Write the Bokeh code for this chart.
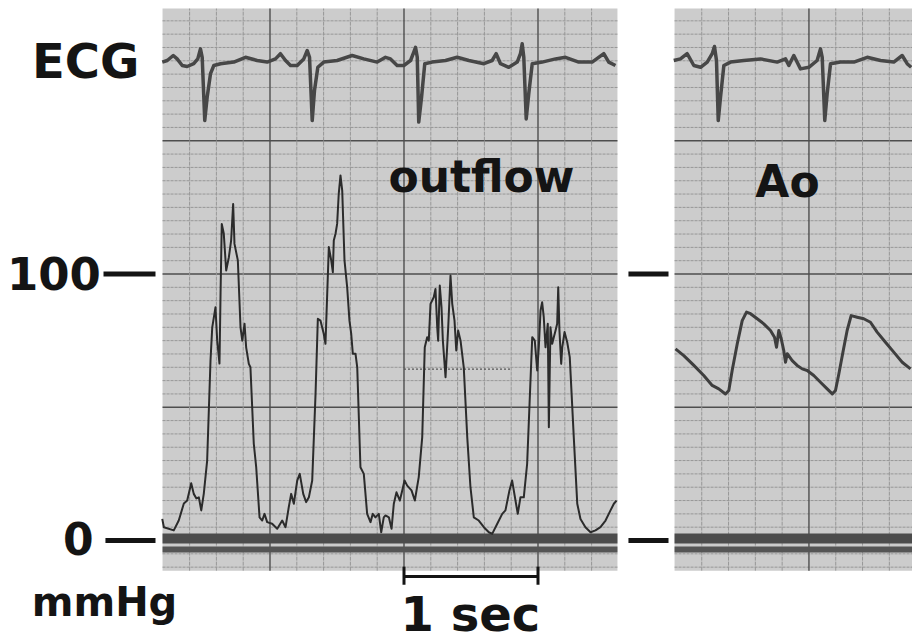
import numpy as np
from bokeh.plotting import figure
from bokeh.models import Range1d
from bokeh.core.properties import value
from bokeh.embed import file_html
from bokeh.resources import INLINE

# ---------------- data (time in s, pressure in mmHg, ECG in mV) ----------------
out_t = [0.196,0.208,0.282,0.319,0.357,0.382,0.412,0.431,0.451,0.469,
         0.487,0.506,0.531,0.556,0.569,0.593,0.606,0.623,0.631,0.640,
         0.655,0.673,0.693,0.710,0.725,0.735,0.760,0.780,0.793,0.810,
         0.822,0.842,0.854,0.879,0.897,0.922,0.942,0.959,0.979,1.016,
         1.054,1.091,1.116,1.140,1.158,1.178,1.203,1.222,1.248,1.270,
         1.290,1.315,1.340,1.357,1.377,1.401,1.414,1.427,1.439,1.457,
         1.469,1.476,1.489,1.501,1.513,1.526,1.539,1.556,1.576,1.593,
         1.606,1.618,1.638,1.651,1.675,1.700,1.725,1.750,1.767,1.787,
         1.812,1.830,1.849,1.862,1.887,1.907,1.924,1.944,1.969,1.987,
         2.004,2.024,2.056,2.081,2.110,2.136,2.155,2.173,2.185,2.198,
         2.222,2.235,2.248,2.255,2.267,2.280,2.290,2.310,2.330,2.347,
         2.360,2.377,2.390,2.404,2.422,2.446,2.472,2.496,2.521,2.558,
         2.596,2.633,2.658,2.696,2.733,2.757,2.787,2.807,2.832,2.849,
         2.869,2.894,2.919,2.937,2.957,2.976,2.994,3.006,3.019,3.031,
         3.043,3.056,3.073,3.081,3.093,3.106,3.118,3.131,3.143,3.151,
         3.160,3.173,3.181,3.198,3.218,3.237,3.267,3.293,3.317,3.354,
         3.392,3.429,3.466,3.504,3.541,3.566,3.586]
out_p = [8.1,5.0,3.8,7.5,13.9,15.0,21.5,17.5,15.8,16.2,
         11.3,17.6,30.0,67.5,80.0,87.5,75.0,66.4,92.7,118.8,
         115.2,101.3,106.3,112.6,126.3,111.3,105.1,80.0,75.0,81.3,
         72.5,66.3,65.0,36.3,27.5,8.7,7.5,10.0,6.9,6.3,
         4.4,7.5,5.0,12.5,17.5,13.8,22.5,25.0,17.5,14.4,
         16.2,22.5,55.2,83.2,82.5,77.6,73.8,92.6,110.1,105.1,
         100.7,112.6,115.1,118.8,130.1,137.0,131.3,105.1,95.0,82.5,
         77.6,70.1,70.1,65.0,27.5,25.0,10.0,6.9,10.0,8.7,
         10.0,3.1,8.7,9.4,8.7,4.4,13.8,18.1,15.0,18.8,
         22.5,20.6,18.8,15.0,23.8,38.8,72.5,76.3,75.0,88.8,
         91.3,94.4,80.0,75.0,95.7,87.5,75.0,61.3,80.0,99.4,
         88.8,82.5,71.3,78.8,75.0,65.0,38.8,20.0,8.7,7.5,
         5.0,3.1,2.5,6.3,10.0,11.3,18.8,22.5,15.0,10.0,
         16.2,16.2,28.8,51.3,76.3,75.0,63.8,72.5,86.3,89.4,
         83.8,72.5,81.3,42.5,80.0,73.8,76.3,78.8,81.3,95.0,
         78.8,66.3,72.5,78.2,74.4,68.8,38.8,13.8,8.1,5.0,
         3.1,3.8,5.0,7.5,11.3,13.8,15.0]

ao_t = [4.026,4.088,4.163,4.237,4.300,4.349,4.399,4.424,4.449,4.487,
        4.524,4.556,4.586,4.636,4.685,4.735,4.765,4.780,4.797,4.815,
        4.834,4.847,4.860,4.897,4.934,4.972,5.009,5.058,5.108,5.158,
        5.196,5.220,5.245,5.278,5.307,5.337,5.382,5.431,5.481,5.531,
        5.593,5.655,5.718,5.780]
ao_p = [71.9,69.4,65.7,61.9,58.2,56.9,55.0,56.3,63.8,73.8,
        82.5,85.7,85.1,83.2,81.3,78.8,76.3,72.5,78.8,75.7,
        71.3,66.9,70.1,67.5,65.7,64.4,63.8,61.9,59.4,56.9,
        55.0,56.3,62.5,71.3,78.8,84.4,83.8,83.2,81.9,78.2,
        74.4,70.7,66.9,64.4]

ecg1_t = [0.196,0.233,0.278,0.307,0.345,0.382,0.431,0.461,0.481,0.494,
          0.513,0.531,0.556,0.581,0.631,0.730,0.817,0.904,0.979,1.041,
          1.078,1.116,1.153,1.203,1.252,1.278,1.295,1.315,1.332,1.357,
          1.401,1.501,1.613,1.700,1.800,1.862,1.899,1.949,1.999,2.049,
          2.073,2.086,2.099,2.110,2.131,2.155,2.210,2.310,2.397,2.484,
          2.596,2.658,2.688,2.720,2.782,2.845,2.869,2.882,2.894,2.912,
          2.931,2.957,3.031,3.131,3.205,3.304,3.404,3.491,3.528,3.578]
ecg1_mv = [0.01,0.05,0.175,0.09,-0.075,-0.10,-0.03,0.09,0.34,0.13,
           -1.45,-0.87,-0.28,-0.075,-0.03,0.01,0.13,0.05,0.01,0.09,
           0.22,0.05,-0.075,-0.075,0.09,0.30,0.13,-1.45,-0.70,-0.12,
           0.01,0.05,0.175,0.09,0.01,0.13,0.09,-0.075,-0.075,0.05,
           0.26,0.38,0.13,-1.49,-0.87,-0.03,0.01,0.05,0.13,0.05,
           -0.03,0.05,0.22,-0.03,-0.12,0.01,0.22,0.47,0.13,-1.41,
           -0.78,-0.03,0.01,0.09,0.13,0.01,0.01,0.22,0.01,-0.075]

ecg2_t = [4.013,4.063,4.113,4.163,4.213,4.263,4.300,4.317,4.332,4.345,
          4.362,4.387,4.437,4.536,4.660,4.785,4.847,4.872,4.909,4.959,
          5.021,5.083,5.108,5.121,5.140,5.158,5.183,5.257,5.357,5.457,
          5.556,5.655,5.718,5.755,5.785]
ecg2_mv = [0.05,0.09,0.22,-0.075,-0.12,0.01,0.22,0.40,0.05,-1.45,
           -0.87,-0.075,0.01,0.05,0.09,0.01,0.09,-0.075,0.175,-0.16,
           -0.12,0.05,0.34,0.13,-1.45,-0.78,-0.03,0.01,0.01,0.13,
           0.05,0.01,0.175,-0.03,-0.12]

# chart-paper panels (outflow recording, Ao recording)
panel_left = [0.198, 4.019]
panel_right = [3.593, 5.80]
paper_bottom, paper_top = -11.3, 199.6
ao_grid_shift = 0.022

# calibration marks and labels
cal_levels = [100, 0]
cal_labels = ["100", "0"]
scale_bar = (2.0, 3.0)   # 1 sec

# ---------------- figure ----------------
p = figure(width=912, height=644, output_backend="svg", toolbar_location=None,
           x_range=Range1d(-1.0112, 5.7948), y_range=Range1d(-39.02, 202.63),
           x_axis_location=None, y_axis_location=None, min_border=0,
           background_fill_color="white", border_fill_color="white",
           outline_line_color=None)
p.grid.visible = False
p.extra_y_ranges = {"ecg": Range1d(-14.55, 1.55)}

PAPER = "#cccccc"
THIN = "#979797"
BOLD = "#4e4e4e"
INK = "#2b2b2b"
TXT = "#141414"

p.quad(left=panel_left, right=panel_right, bottom=paper_bottom, top=paper_top,
       fill_color=PAPER, line_color=None)

# horizontal grid lines every 5 mmHg, bold every 50
hy = np.arange(-10, 196, 5)
for L, R in zip(panel_left, panel_right):
    thin = [v for v in hy if v % 50 != 0]
    bold = [v for v in hy if v % 50 == 0 and v != 0]
    p.segment(x0=[L]*len(thin), x1=[R]*len(thin), y0=thin, y1=thin,
              line_color=THIN, line_width=1, line_dash="3 1")
    p.segment(x0=[L]*len(bold), x1=[R]*len(bold), y0=bold, y1=bold,
              line_color=BOLD, line_width=1.4)

# vertical grid lines every 0.2 s, bold every 1 s
vx_out = [round(v, 2) for v in np.arange(0.4, 3.45, 0.2)]
vx_ao = [round(v, 2) for v in np.arange(4.2, 5.75, 0.2)]
def vlines(xs, shift):
    thin = [x + shift for x in xs if abs(x - round(x)) > 1e-6]
    bold = [x + shift for x in xs if abs(x - round(x)) <= 1e-6]
    p.segment(x0=thin, x1=thin, y0=[paper_bottom]*len(thin), y1=[paper_top]*len(thin),
              line_color=THIN, line_width=1, line_dash="4 1")
    p.segment(x0=bold, x1=bold, y0=[paper_bottom]*len(bold), y1=[paper_top]*len(bold),
              line_color=BOLD, line_width=1.4)
vlines(vx_out, 0.0)
vlines(vx_ao, ao_grid_shift)

# darker dotted paper artefact line
p.segment(x0=[2.0], x1=[2.8], y0=[64.3], y1=[64.3], line_color="#555555",
          line_width=1.2, line_dash="2 2")

# zero-reference band
for L, R in zip(panel_left, panel_right):
    p.segment(x0=[L], x1=[R], y0=[0.8], y1=[0.8], line_color="#4c4c4c", line_width=10)
    p.segment(x0=[L], x1=[R], y0=[-3.4], y1=[-3.4], line_color="#555555", line_width=6)

# traces
p.line(out_t, out_p, line_color=INK, line_width=2, line_join="round")
p.line(ao_t, ao_p, line_color="#3e3e3e", line_width=3, line_join="round")
p.line(ecg1_t, ecg1_mv, y_range_name="ecg", line_color="#474747", line_width=3.5,
       line_join="round")
p.line(ecg2_t, ecg2_mv, y_range_name="ecg", line_color="#474747", line_width=3.5,
       line_join="round")

# calibration dashes
p.segment(x0=[-0.2425, -0.228], x1=[0.1455, 0.1455], y0=cal_levels, y1=cal_levels,
          line_color=TXT, line_width=5)
p.segment(x0=[3.675, 3.675], x1=[3.974, 3.974], y0=cal_levels, y1=cal_levels,
          line_color=TXT, line_width=5)

# 1 sec scale bar
p.segment(x0=[scale_bar[0]], x1=[scale_bar[1]], y0=[-13.5], y1=[-13.5],
          line_color=TXT, line_width=3)
p.segment(x0=list(scale_bar), x1=list(scale_bar), y0=[-9.8, -9.8], y1=[-16.6, -16.6],
          line_color=TXT, line_width=3)

FONT = value("DejaVu Sans")
def label(x, y, t, size, align="center"):
    p.text(x=[x], y=[y], text=[t], text_font=FONT, text_font_style="bold",
           text_font_size=size, text_align=align, text_baseline="alphabetic",
           text_color=TXT)

label(-0.375, 179.8, "ECG", "48px")
label(-0.262, 100.2, cal_labels[0], "45px", align="right")
label(-0.43, 0.8, cal_labels[1], "44px")
label(-0.235, -23.1, "mmHg", "40px")
label(2.496, -27.6, "1 sec", "48px")
label(2.578, 136.6, "outflow", "44px")
label(4.862, 134.7, "Ao", "44px")

open("out.html", "w").write(file_html(p, INLINE))
